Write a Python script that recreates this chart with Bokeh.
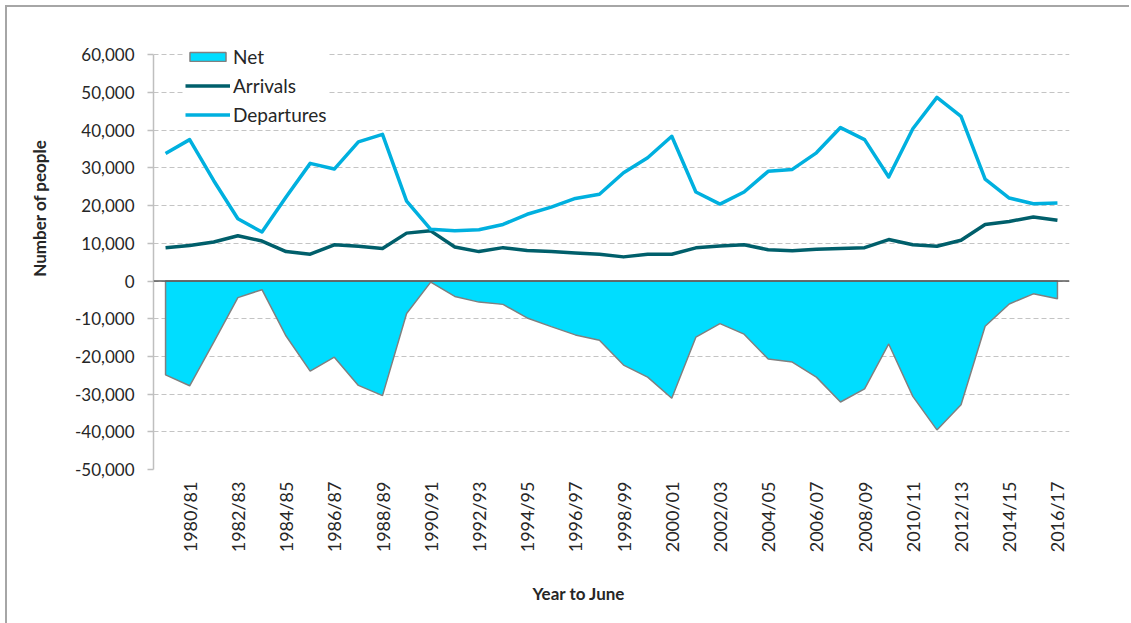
from math import pi
from bokeh.plotting import figure
from bokeh.models import (Range1d, FixedTicker, NumeralTickFormatter, Span, Title,
                          Legend, LegendItem)
from bokeh.embed import file_html
from bokeh.resources import INLINE

years = ["1979/80", "1980/81", "1981/82", "1982/83", "1983/84", "1984/85", "1985/86",
         "1986/87", "1987/88", "1988/89", "1989/90", "1990/91", "1991/92", "1992/93",
         "1993/94", "1994/95", "1995/96", "1996/97", "1997/98", "1998/99", "1999/00",
         "2000/01", "2001/02", "2002/03", "2003/04", "2004/05", "2005/06", "2006/07",
         "2007/08", "2008/09", "2009/10", "2010/11", "2011/12", "2012/13", "2013/14",
         "2014/15", "2015/16", "2016/17"]

arrivals = [8850, 9400, 10350, 12000, 10600, 7800, 7100, 9600, 9200, 8600,
            12700, 13300, 9000, 7800, 8850, 8100, 7800, 7400, 7100,
            6400, 7100, 7100, 8800, 9300, 9600, 8300, 8050, 8400, 8600,
            8850, 11000, 9600, 9200, 10800, 15000, 15800, 17000, 16100]

departures = [33800, 37500, 26600, 16500, 13000, 22300, 31200, 29700, 36900, 38900,
              21200, 13700, 13300, 13600, 15000, 17700, 19600, 21900, 23000,
              28700, 32700, 38400, 23600, 20400, 23600, 29100, 29600, 34000, 40700,
              37500, 27600, 40400, 48700, 43700, 27000, 22000, 20500, 20700]

net = [-24900, -27800, -16200, -4400, -2300, -14600, -23900, -20200, -27700, -30400,
       -8600, -300, -4100, -5600, -6200, -9800, -12100, -14300, -15700,
       -22300, -25500, -31100, -14900, -11300, -14100, -20700, -21500, -25500, -32100,
       -28600, -16700, -30600, -39500, -32800, -12000, -6100, -3400, -4700]

y_ticks = [-50000, -40000, -30000, -20000, -10000, 0, 10000, 20000, 30000, 40000, 50000, 60000]

FONT = "Lato"
TXT = "#262626"

idx = list(range(len(years)))

p = figure(frame_width=916, frame_height=426,
           min_border_left=146, min_border_top=36, min_border_right=62, min_border_bottom=154,
           x_range=Range1d(-0.5, len(years) - 0.5), y_range=Range1d(y_ticks[0], 63000),
           output_backend="svg", toolbar_location=None,
           styles={"margin-left": "7px", "margin-top": "7px",
                   "box-shadow": "-2px -2px 0px 0px #A6A6A6"})
p.outline_line_color = None
p.background_fill_color = "white"
p.border_fill_color = "white"

# grid
p.xgrid.visible = False
p.ygrid.grid_line_color = "#C4C4C4"
p.ygrid.grid_line_dash = "5 3"
p.ygrid.grid_line_width = 1

# y axis
p.yaxis.ticker = FixedTicker(ticks=y_ticks)
p.yaxis.bounds = (y_ticks[0], y_ticks[-1])
p.yaxis.formatter = NumeralTickFormatter(format="0,0")
p.yaxis.axis_line_color = "#BFBFBF"
p.yaxis.axis_line_width = 1.5
p.yaxis.major_tick_line_color = "#BFBFBF"
p.yaxis.major_tick_line_width = 1.5
p.yaxis.major_tick_out = 6
p.yaxis.major_tick_in = 0
p.yaxis.minor_tick_line_color = None
p.yaxis.major_label_text_font = FONT
p.yaxis.major_label_text_font_size = "17px"
p.yaxis.major_label_text_color = TXT
p.yaxis.major_label_standoff = 13

# x axis
p.xaxis.ticker = FixedTicker(ticks=idx[1::2])
p.xaxis.major_label_overrides = {i: years[i] for i in idx}
p.xaxis.major_label_orientation = pi / 2
p.xaxis.axis_line_color = None
p.xaxis.major_tick_line_color = None
p.xaxis.minor_tick_line_color = None
p.xaxis.major_tick_out = 0
p.xaxis.major_label_text_font = FONT
p.xaxis.major_label_text_font_size = "18px"
p.xaxis.major_label_text_color = TXT
p.xaxis.major_label_standoff = 12

# axis titles as side-panel titles
p.add_layout(Title(text="Number of people", align="right", offset=96,
                   vertical_align="top", standoff=42,
                   text_font=FONT, text_font_style="bold", text_font_size="17px",
                   text_color=TXT), "left")
p.add_layout(Title(text="Year to June", align="left", offset=379,
                   vertical_align="bottom", standoff=50,
                   text_font=FONT, text_font_style="bold", text_font_size="17px",
                   text_color=TXT), "below")

# net area
xs = [idx[0]] + idx + [idx[-1]]
ys = [0] + net + [0]
r_net = p.patch(xs, ys, fill_color="#00DDFF", line_color="#808080", line_width=1.5)
r_arr = p.line(idx, arrivals, line_color="#005F6B", line_width=3.5, line_join="round")
r_dep = p.line(idx, departures, line_color="#00B0DF", line_width=3.5, line_join="round")

p.add_layout(Span(location=0, dimension="width", line_color="#595959", line_width=1.5))

legend = Legend(items=[LegendItem(label="Net", renderers=[r_net]),
                       LegendItem(label="Arrivals", renderers=[r_arr]),
                       LegendItem(label="Departures", renderers=[r_dep])],
                location=(32, 343), orientation="vertical",
                glyph_width=45, glyph_height=11, label_height=23, spacing=6,
                padding=10, margin=0, label_standoff=3,
                background_fill_color="white", background_fill_alpha=1,
                border_line_color=None,
                label_text_font=FONT, label_text_font_size="19px", label_text_color=TXT)
p.add_layout(legend)

open("out.html", "w").write(file_html(p, INLINE))
